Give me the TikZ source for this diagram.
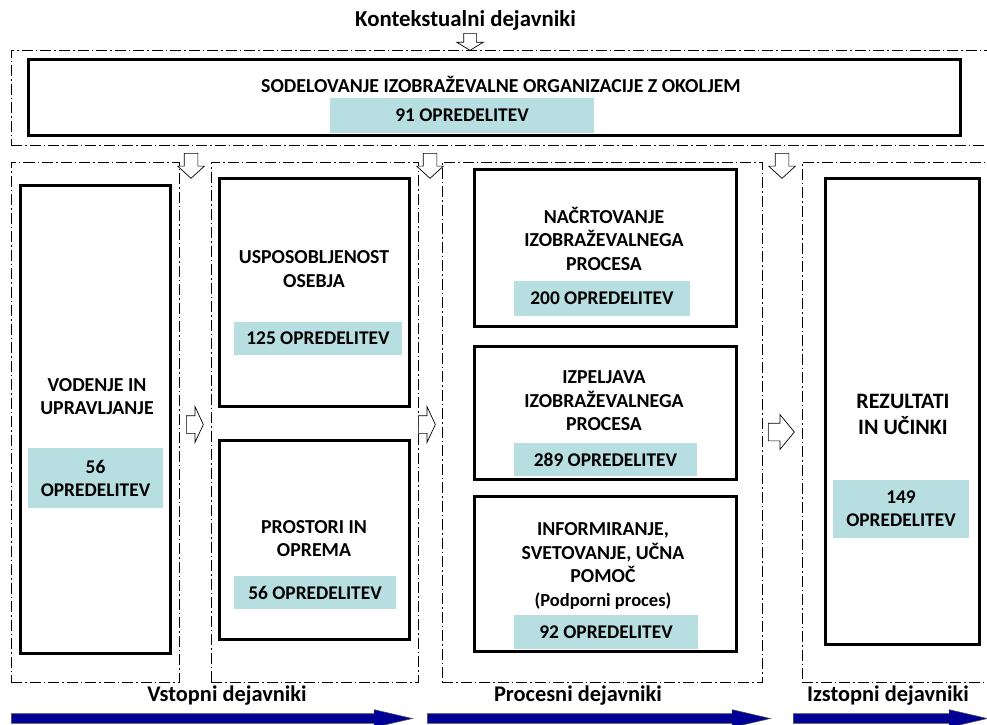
\documentclass[tikz,border=0pt]{standalone}
\usepackage{fontspec}
\setmainfont{Carlito}
\definecolor{colorCount}{RGB}{183,222,225}
\definecolor{colorPhase}{RGB}{0,0,150}
\usetikzlibrary{shapes.arrows, positioning}
\tikzset{
  zone/.style={draw, line width=0.9pt, dash pattern=on 11pt off 3pt on 1.5pt off 3pt, inner sep=0},
  factor/.style={draw, line width=3pt, inner sep=0},
  label/.style={font=\bfseries\fontsize{19.8}{23.5}\selectfont, align=center, inner sep=0},
  count/.style={fill=colorCount, font=\bfseries\fontsize{19.4}{23}\selectfont, align=center, inner sep=0},
  phase/.style={font=\bfseries\fontsize{22.4}{26}\selectfont, inner sep=0},
  hollow/.style={single arrow, draw, fill=white, line width=0.7pt, inner xsep=0, anchor=tail},
  flow/.style={single arrow, draw=black!70, fill=colorPhase, line width=0.6pt, inner xsep=0, inner ysep=4.5pt, single arrow head extend=4pt, single arrow tip angle=26, anchor=tail}
}
\begin{document}
\begin{tikzpicture}[x=1pt, y=-1pt]
\useasboundingbox (0,0) rectangle (987,724);
% zones
\node[zone, minimum width=981, minimum height=95] (zctx) at (501.5,97.5) {};
\node[zone, minimum width=168, minimum height=520] (zin1) at (95,422) {};
\node[zone, minimum width=207, minimum height=520] (zin2) at (314.5,422) {};
\node[zone, minimum width=320, minimum height=520] (zproc) at (602,422) {};
\node[zone, minimum width=190, minimum height=520] (zout) at (897,422) {};
% factors
\node[factor, minimum width=932, minimum height=76] (sod) at (494.5,97.5) {};
\node[factor, minimum width=150, minimum height=468] (vod) at (95.5,419.5) {};
\node[factor, minimum width=190, minimum height=228] (usp) at (314.5,292.5) {};
\node[factor, minimum width=190, minimum height=199] (pro) at (314.5,540) {};
\node[factor, minimum width=262, minimum height=157] (nac) at (605.5,248) {};
\node[factor, minimum width=262, minimum height=133] (izp) at (605.5,413) {};
\node[factor, minimum width=262, minimum height=155] (inf) at (605.5,574) {};
\node[factor, minimum width=154, minimum height=466] (rez) at (902.5,411.5) {};
% texts
\node[phase, font=\bfseries\fontsize{22.8}{26}\selectfont] (ctx) at (465.5,20) {Kontekstualni dejavniki};
\node[label] (sodT) at (501,84) {SODELOVANJE IZOBRAŽEVALNE ORGANIZACIJE Z OKOLJEM};
\node[count, minimum width=264, minimum height=35] (sodN) at (462,115.5) {91 OPREDELITEV};
\node[label] (vodT) at (97,396.5) {VODENJE IN\\UPRAVLJANJE};
\node[count, minimum width=135, minimum height=60] (vodN) at (95.5,478) {56\\OPREDELITEV};
\node[label] (uspT) at (314,269) {USPOSOBLJENOST\\OSEBJA};
\node[count, minimum width=168, minimum height=33] (uspN) at (318,338.5) {125 OPREDELITEV};
\node[label] (proT) at (314,538.5) {PROSTORI IN\\OPREMA};
\node[count, minimum width=162, minimum height=33] (proN) at (315,592.5) {56 OPREDELITEV};
\node[label] (nacT) at (604,238.5) {NAČRTOVANJE\\IZOBRAŽEVALNEGA\\PROCESA};
\node[count, minimum width=176, minimum height=35] (nacN) at (602,298.5) {200 OPREDELITEV};
\node[label] (izpT) at (604,401) {IZPELJAVA\\IZOBRAŽEVALNEGA\\PROCESA};
\node[count, minimum width=183, minimum height=33] (izpN) at (605.5,459.5) {289 OPREDELITEV};
\node[label] (infT) at (603,566) {INFORMIRANJE,\\SVETOVANJE, UČNA\\POMOČ\\{\fontsize{18.5}{23.5}\selectfont (Podporni proces)}};
\node[count, minimum width=184, minimum height=34] (infN) at (606,632) {92 OPREDELITEV};
\node[label, font=\bfseries\fontsize{22}{26}\selectfont] (rezT) at (903,414) {REZULTATI\\IN UČINKI};
\node[count, minimum width=136, minimum height=58] (rezN) at (901,509) {149\\OPREDELITEV};
\node[phase] (vst) at (227,696) {Vstopni dejavniki};
\node[phase] (prc) at (578,696) {Procesni dejavniki};
\node[phase] (izs) at (888,696) {Izstopni dejavniki};
% hollow arrows
\node[hollow, rotate=-90, minimum height=17, inner ysep=6pt, single arrow head extend=7pt, single arrow tip angle=117] (a0) at (470,33) {};
\node[hollow, rotate=-90, minimum height=25, inner ysep=6.5pt, single arrow head extend=6.5pt, single arrow tip angle=95] (a1) at (191,153) {};
\node[hollow, rotate=-90, minimum height=25, inner ysep=6.5pt, single arrow head extend=6.5pt, single arrow tip angle=95] (a2) at (430,153) {};
\node[hollow, rotate=-90, minimum height=25, inner ysep=6.5pt, single arrow head extend=6.5pt, single arrow tip angle=95] (a3) at (782,153) {};
\node[hollow, minimum height=17, inner ysep=8.5pt, single arrow head extend=9pt, single arrow tip angle=130] (b1) at (186,424.5) {};
\node[hollow, minimum height=17, inner ysep=8.5pt, single arrow head extend=9pt, single arrow tip angle=130] (b2) at (418,424.5) {};
\node[hollow, minimum height=26, inner ysep=8.5pt, single arrow head extend=8.5pt, single arrow tip angle=101] (b3) at (768,432) {};
% phase arrows
\node[flow, minimum height=401] (f1) at (11,718.5) {};
\node[flow, minimum height=343] (f2) at (427,718.5) {};
\node[flow, minimum height=194] (f3) at (793,718.5) {};
\end{tikzpicture}
\end{document}
